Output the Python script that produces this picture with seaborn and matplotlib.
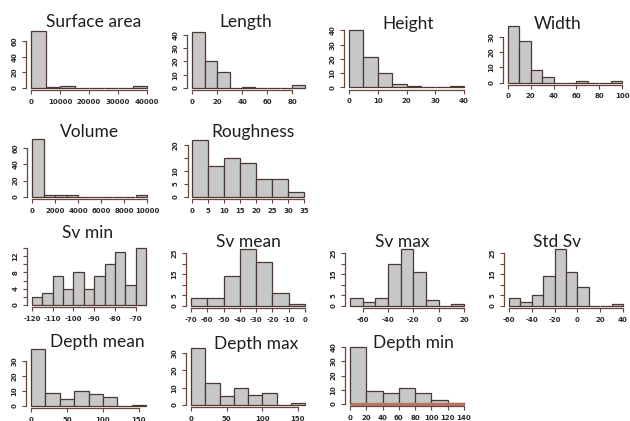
import numpy as np
import pandas as pd
import matplotlib
matplotlib.use("Agg")
import matplotlib.pyplot as plt
import seaborn as sns

# ---- bin edges and counts for each morphometric variable ----
surface_edges = np.arange(0, 40001, 5000)
surface_counts = [73, 1, 3, 0, 0, 0, 0, 2]

length_edges = np.arange(0, 91, 10)
length_counts = [42, 20, 12, 0, 1, 0, 0, 0, 2]

height_edges = np.arange(0, 41, 5)
height_counts = [40, 21, 10, 2, 1, 0, 0, 1]

width_edges = np.arange(0, 101, 10)
width_counts = [37, 27, 8, 4, 0, 0, 1, 0, 0, 1]

volume_edges = np.arange(0, 10001, 1000)
volume_counts = [71, 2, 2, 2, 0, 0, 0, 0, 0, 3]

rough_edges = np.arange(0, 36, 5)
rough_counts = [22, 12, 15, 13, 7, 7, 2]

svmin_edges = np.arange(-120, -64, 5)
svmin_counts = [2, 3, 7, 4, 8, 4, 7, 10, 13, 5, 14]

svmean_edges = np.arange(-70, 1, 10)
svmean_counts = [4, 4, 14, 27, 21, 6, 1]

svmax_edges = np.arange(-70, 21, 10)
svmax_counts = [4, 2, 4, 20, 27, 16, 3, 0, 1]

stdsv_edges = np.arange(-60, 41, 10)
stdsv_counts = [4, 2, 5, 14, 27, 16, 9, 0, 0, 1]

dmean_edges = np.arange(0, 161, 20)
dmean_counts = [38, 9, 5, 10, 8, 6, 0, 1]

dmax_edges = np.arange(0, 161, 20)
dmax_counts = [33, 13, 5, 10, 6, 7, 0, 1]

dmin_edges = np.arange(0, 141, 20)
dmin_counts = [40, 9, 8, 11, 8, 3, 1]

# ---- axis ticks (labels left blank where they would collide) ----
panels = [
    # title, edges, counts, xticks, yticks, shown y labels,
    # pixel box of the bars (left, right, top, baseline), title centre
    ("Surface area", surface_edges, surface_counts, np.arange(0, 40001, 10000),
     [0, 20, 40, 60], None, (31, 147, 31, 88), (94, 22)),
    ("Length", length_edges, length_counts, np.arange(0, 81, 20),
     [0, 10, 20, 30, 40], None, (192, 305, 32, 88), (246, 22)),
    ("Height", height_edges, height_counts, np.arange(0, 41, 10),
     [0, 10, 20, 30, 40], None, (349, 464, 30.5, 87.3), (408, 24)),
    ("Width", width_edges, width_counts, np.arange(0, 101, 20),
     [0, 10, 20, 30], None, (508, 622, 26, 82.7), (558, 24)),
    ("Volume", volume_edges, volume_counts, np.arange(0, 10001, 2000),
     [0, 20, 40, 60], None, (32, 147, 139, 197), (90, 132)),
    ("Roughness", rough_edges, rough_counts, np.arange(0, 36, 5),
     [0, 5, 10, 15, 20], [0, 5, 10, 20], (192, 304, 140, 197), (253, 132)),
    ("Sv min", svmin_edges, svmin_counts, np.arange(-120, -69, 10),
     np.arange(0, 15, 2), [0, 4, 8, 12], (32, 146, 248, 305), (88, 233)),
    ("Sv mean", svmean_edges, svmean_counts, np.arange(-70, 1, 10),
     np.arange(0, 26, 5), [0, 5, 15, 25], (191, 305, 249, 306), (248, 242)),
    ("Sv max", svmax_edges, svmax_counts, np.arange(-60, 21, 20),
     np.arange(0, 26, 5), [0, 5, 15, 25], (350, 464, 249, 306), (402, 242)),
    ("Std Sv", stdsv_edges, stdsv_counts, np.arange(-60, 41, 20),
     np.arange(0, 26, 5), [0, 5, 15, 25], (509, 623, 249, 306), (557, 242)),
    ("Depth mean", dmean_edges, dmean_counts, np.arange(0, 151, 50),
     [0, 10, 20, 30], None, (31, 146, 349, 406), (97, 342)),
    ("Depth max", dmax_edges, dmax_counts, np.arange(0, 151, 50),
     [0, 10, 20, 30], None, (191, 305, 348, 405), (256, 344)),
    ("Depth min", dmin_edges, dmin_counts, np.arange(0, 141, 20),
     [0, 10, 20, 30, 40], None, (350, 464, 347, 404), (413, 343)),
]

sns.set_style("white")
plt.rcParams["font.family"] = ["DejaVu Sans"]

FIG_W, FIG_H = 630, 421
fig = plt.figure(figsize=(FIG_W / 100, FIG_H / 100), dpi=100)

BAR_FILL = "#c8c8c8"
BAR_EDGE = "#4a3934"
AXIS_COL = "#6a4538"
TICK_TXT = "#2a2a2a"

for title, edges, counts, xt, yt, ylab_shown, box, tpos in panels:
    edges = [float(e) for e in edges]
    counts = np.asarray(counts, dtype=float)
    binned = pd.DataFrame({"value": [(a + b) / 2 for a, b in zip(edges[:-1], edges[1:])],
                           "n": counts})

    # R-style plot region: 4% padding around data range
    px_l, px_r, y_t, y_b = box
    W, H = px_r - px_l, y_b - y_t
    left, width = px_l - 0.04 * W, 1.08 * W
    top, height = y_t - 0.04 * H, 1.08 * H
    ax = fig.add_axes([left / FIG_W, 1 - (top + height) / FIG_H,
                       width / FIG_W, height / FIG_H])

    sns.histplot(data=binned, x="value", weights="n", bins=edges, ax=ax,
                 color=BAR_FILL, edgecolor=BAR_EDGE, linewidth=0.9,
                 alpha=1.0, stat="count")

    xr = edges[-1] - edges[0]
    ymax = counts.max()
    ax.set_xlim(edges[0] - 0.04 * xr, edges[-1] + 0.04 * xr)
    ax.set_ylim(-0.04 * ymax, 1.04 * ymax)

    ax.set_xlabel("")
    ax.set_ylabel("")
    for s in ("top", "right"):
        ax.spines[s].set_visible(False)
    for s in ("left", "bottom"):
        ax.spines[s].set_color(AXIS_COL)
        ax.spines[s].set_linewidth(0.9)
    ax.spines["left"].set_bounds(yt[0], yt[-1])
    ax.spines["bottom"].set_bounds(xt[0], xt[-1])

    ax.set_xticks(xt)
    ax.set_xticklabels([f"{v:g}" for v in xt])
    ax.set_yticks(yt)
    shown = yt if ylab_shown is None else ylab_shown
    ax.set_yticklabels([f"{v:g}" if v in shown else "" for v in yt],
                       rotation=90, va="center")
    ax.tick_params(axis="both", direction="out", length=3, width=0.8,
                   color=AXIS_COL, labelsize=5, labelcolor=TICK_TXT,
                   left=True, bottom=True)
    ax.tick_params(axis="x", pad=3.0)
    ax.tick_params(axis="y", pad=3.4)
    for lab in ax.get_xticklabels() + ax.get_yticklabels():
        lab.set_fontweight("bold")
    ax.patch.set_alpha(0)

    if title == "Depth min":
        ax.plot([edges[0], edges[-1]], [0, 0], color="#b27565",
                lw=2.4, solid_capstyle="butt", zorder=3)

    fig.text(tpos[0] / FIG_W, 1 - tpos[1] / FIG_H, title,
             ha="center", va="center", fontsize=12.5,
             family=["Lato", "DejaVu Sans"], color="#1e1e1e")

fig.savefig("out.png", dpi=100, facecolor="white")
